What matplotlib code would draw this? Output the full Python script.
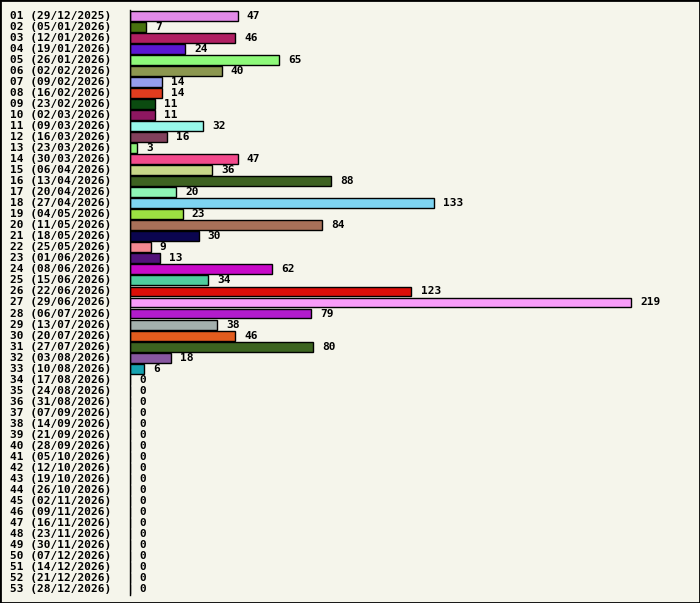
import matplotlib
matplotlib.use("Agg")
import matplotlib.pyplot as plt
from datetime import date, timedelta

weeks = [f"{i+1:02d} ({(date(2025,12,29)+timedelta(weeks=i)).strftime('%d/%m/%Y')})" for i in range(53)]
values = [47, 7, 46, 24, 65, 40, 14, 14, 11, 11, 32, 16, 3, 47, 36, 88, 20, 133, 23, 84,
          30, 9, 13, 62, 34, 123, 219, 79, 38, 46, 80, 18, 6] + [0] * 20
colors = ["#e28ae8", "#48720f", "#b01f62", "#5b17d3", "#8ef97a", "#8c9750", "#959ded", "#e03c1f",
          "#0b4b10", "#8d1760", "#97f7ea", "#82405c", "#8ef27a", "#f24a8c", "#c8d788", "#3e6221",
          "#8ef5b6", "#7ed4f2", "#9ce042", "#a87058", "#0b0550", "#f48890", "#52127a", "#c80ac8",
          "#4fcc9e", "#dc0e08", "#f89cf8", "#b21ccc", "#a3b0ad", "#e25c1e", "#3c6420", "#8757a0",
          "#17a2b0"] + ["#ffffff"] * 20

bg = "#f5f5eb"
fig = plt.figure(figsize=(7.0, 6.03), dpi=100, facecolor=bg)
fig.patches.append(plt.Rectangle((0, 0), 1, 1, transform=fig.transFigure, fill=False,
                                 edgecolor="black", linewidth=2))
ax = fig.add_axes([130/700, (603-595)/603, 560/700, 585/603])
ax.set_facecolor(bg)
y = range(len(values))
ax.barh(y, values, height=0.9, color=colors, edgecolor="black", linewidth=1)
ax.set_xlim(0, 219 * 560 / 501)
ax.set_ylim(52.54, -0.54)
for s in ["top", "right", "bottom"]:
    ax.spines[s].set_visible(False)
ax.spines["left"].set_linewidth(1)
ax.set_xticks([])
ax.set_yticks([])
font = dict(family="DejaVu Sans Mono", fontweight="bold", fontsize=8)
for i, (lab, v) in enumerate(zip(weeks, values)):
    ax.text(-120/2.2876, i, lab, ha="left", va="center", **font)
    ax.text(v + 4, i, str(v), ha="left", va="center", **font)
fig.savefig("out.png", dpi=100, facecolor=bg)
